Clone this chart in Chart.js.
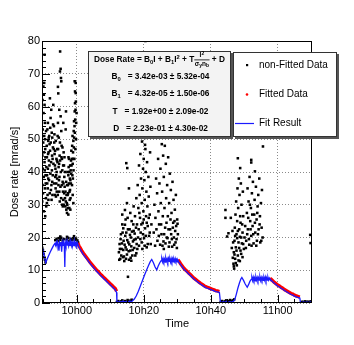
<!DOCTYPE html>
<html>
<head>
<meta charset="utf-8">
<script src="https://cdn.jsdelivr.net/npm/chart.js@4.4.1/dist/chart.umd.min.js"></script>
<style>
  body { margin: 0; background: #fff; }
  canvas { display: block; }
</style>
</head>
<body>
<canvas id="dose" width="354" height="345"></canvas>
<script>
// ==========================================
// 1. DATA  (time = minutes after 10h00, dose rate in mrad/s)
// ==========================================
var xTicks = [0, 20, 40, 60];
var xTickLabels = ['10h00', '10h20', '10h40', '11h00'];
var yTicks = [0, 10, 20, 30, 40, 50, 60, 70, 80];

// fit result (blue line)
var fitCurve = [
  [-10.36,17.2],[-10.0,15.8],[-9.6,13.9],[-9.25,12.3],[-8.9,13.2],[-8.4,14.4],[-7.9,15.6],[-7.4,16.6],[-6.9,17.6],[-6.5,18.2],
  [-6.3,17.6],[-6.1,18.5],[-5.9,17.5],[-5.7,18.6],[-5.5,17.8],[-5.3,16.0],[-5.1,18.4],[-4.9,17.5],[-4.7,18.6],[-4.5,15.7],
  [-4.3,18.5],[-4.1,17.4],[-3.9,18.6],[-3.7,17.6],[-3.55,11.0],[-3.4,18.5],[-3.2,17.5],[-3.0,18.7],[-2.8,17.7],[-2.6,18.4],
  [-2.4,17.4],[-2.2,18.6],[-2.0,17.6],[-1.8,18.5],[-1.6,17.5],[-1.4,18.7],[-1.2,17.6],[-1.0,18.4],[-0.8,17.5],[-0.6,18.6],
  [-0.4,17.6],[-0.2,18.5],[0.0,17.7],[0.2,18.4],[0.4,17.8],
  [0.7,17.0],[1,16.5],[1.5,15.6],[2,14.8],[2.5,14.1],[3,13.4],[3.5,12.7],[4,12.0],[4.5,11.4],[5,10.8],[5.5,10.2],[6,9.6],
  [6.5,9.1],[7,8.5],[7.5,8.0],[8,7.5],[8.5,7.0],[9,6.5],[9.5,6.0],[10,5.5],[10.5,5.0],[11,4.5],[11.5,4.0],[11.9,3.2],[12.0,0.4],
  [12.3,0.2],[12.8,0.5],[13.3,0.3],[13.8,0.6],[14.3,0.3],[14.8,0.5],[15.3,0.3],[15.8,0.6],[16.3,0.4],[16.6,0.6],
  [17.2,1.2],[17.8,2.2],[18.4,3.6],[19.0,5.2],[19.6,6.8],[20.2,8.4],[20.8,9.9],[21.4,11.4],[22.0,12.7],[22.4,13.3],
  [22.9,12.3],[23.4,11.0],[23.9,10.1],[24.3,11.2],[24.8,12.3],[25.2,12.9],
  [25.4,13.5],[25.6,12.6],[25.8,13.6],[26.0,12.7],[26.2,13.4],[26.4,12.5],[26.6,13.7],[26.8,12.8],[27.0,13.5],[27.2,12.6],
  [27.4,13.6],[27.6,12.7],[27.8,13.4],[28.0,12.5],[28.2,13.6],[28.4,12.7],[28.6,13.5],[28.8,12.6],[29.0,13.4],[29.2,12.7],
  [29.4,13.6],[29.6,12.8],[29.8,13.3],[30.0,12.6],[30.2,13.1],
  [30.5,12.4],[31,11.7],[31.5,11.0],[32,10.3],[32.5,9.8],[33,9.3],[33.5,8.8],[34,8.3],[34.5,7.8],[35,7.3],[35.5,6.9],[36,6.5],
  [36.5,6.1],[37,5.7],[37.5,5.4],[38,5.0],[38.5,4.7],[39,4.5],[39.5,4.3],[40,4.1],[40.5,3.9],[41,3.7],[41.5,3.5],[42,3.4],
  [42.6,3.2],[42.9,0.3],
  [43.2,0.1],[43.7,0.4],[44.2,0.2],[44.7,0.5],[45.2,0.2],[45.7,0.4],[46.2,0.3],[46.7,0.5],[47.1,0.8],
  [47.6,2.5],[48.1,4.5],[48.6,6.2],[49.0,7.3],[49.3,7.8],[49.8,6.9],[50.3,5.8],[50.9,4.8],[51.3,5.6],[51.7,6.6],[52.1,7.2],
  [52.3,7.8],[52.5,6.9],[52.7,7.9],[52.9,7.0],[53.1,7.7],[53.3,6.8],[53.5,7.9],[53.7,7.0],[53.9,7.8],[54.1,6.9],[54.3,7.7],
  [54.5,7.0],[54.7,7.9],[54.9,6.9],[55.1,7.8],[55.3,7.0],[55.5,7.7],[55.7,6.9],[55.9,7.8],[56.1,7.0],[56.3,7.9],[56.5,6.9],
  [56.7,7.7],[56.9,7.0],[57.1,7.8],[57.3,7.0],[57.5,7.6],[57.7,7.2],
  [58,7.0],[58.5,6.5],[59,6.0],[59.5,5.6],[60,5.2],[60.5,4.9],[61,4.5],[61.5,4.2],[62,3.8],[62.5,3.5],[63,3.2],[63.5,2.9],
  [64,2.6],[64.5,2.4],[65,2.1],[65.5,1.9],[66,1.7],[66.6,1.5],[66.8,0.2],
  [67.2,0.1],[67.7,0.3],[68.2,0.1],[68.7,0.3],[69.2,0.1],[69.7,0.3],[70.24,0.2]
];

// fitted data (red), one list per decay
var fitted1 = [
  [0.3,18.3],[0.7,17.4],[1,16.9],[1.5,16.0],[2,15.2],[2.5,14.5],[3,13.8],[3.5,13.1],[4,12.4],[4.5,11.8],[5,11.2],[5.5,10.6],
  [6,10.0],[6.5,9.5],[7,8.9],[7.5,8.4],[8,7.9],[8.5,7.4],[9,6.9],[9.5,6.4],[10,5.9],[10.5,5.4],[11,4.9],[11.5,4.4],[11.9,3.6]
];
var fitted2 = [
  [30.2,13.2],[30.6,12.7],[31,12.0],[31.5,11.3],[32,10.6],[32.5,10.1],[33,9.6],[33.5,9.1],[34,8.6],[34.5,8.1],[35,7.6],
  [35.5,7.2],[36,6.8],[36.5,6.4],[37,6.0],[37.5,5.7],[38,5.3],[38.5,5.0],[39,4.8],[39.5,4.6],[40,4.4],[40.5,4.2],[41,4.0],
  [41.5,3.8],[42,3.7],[42.6,3.5]
];
var fitted3 = [
  [57.7,7.5],[58,7.3],[58.5,6.8],[59,6.3],[59.5,5.9],[60,5.5],[60.5,5.2],[61,4.8],[61.5,4.5],[62,4.1],[62.5,3.8],[63,3.5],
  [63.5,3.2],[64,2.9],[64.5,2.7],[65,2.4],[65.5,2.2],[66,2.0],[66.6,1.8]
];

// non-fitted data (black), one list per injection burst + the low-level points
var nonFit1 = [
  [-10.3,31],[-10.2,36],[-10.1,41],[-10.25,45],[-10.0,49],[-10.15,53],[-9.9,58],[-10.2,62],[-9.95,66.1],[-9.6,75.8],
  [-9.7,67.2],[-9.8,63.6],[-9.6,60.5],[-9.5,55],[-9.7,51],[-9.4,47],[-9.6,43],[-9.3,39],[-9.5,35],[-9.2,32],
  [-9.8,28],[-9.1,29.5],[-9.4,26.5],
  [-8.9,30.5],[-8.7,33],[-8.8,36.5],[-8.5,38],[-8.6,41],[-8.3,43.5],[-8.4,46],[-8.1,48.5],[-8.2,51],[-7.9,53.5],
  [-7.8,56.5],[-7.6,59],[-8.0,62.5],[-7.5,31.5],[-7.7,34.5],[-7.3,37],[-7.4,40.5],[-7.2,44],[-7.1,47.5],[-7.3,50.5],
  [-8.6,55],[-8.9,44.5],[-8.5,49.5],
  [-7.0,60.5],[-6.8,54],[-6.7,49],[-6.6,45.5],[-6.5,42],[-6.4,38.5],[-6.3,35],[-6.2,32.5],[-6.1,36.5],[-6.0,40],
  [-5.9,43.5],[-5.8,47],[-5.7,51],[-5.6,55],[-5.5,64],[-5.4,41.5],[-5.3,37.5],[-5.2,34],[-5.1,45],[-5.0,49],
  [-5.6,66],[-5.0,70.7],[-4.95,76.8],[-5.2,59],
  [-4.8,71.5],[-4.7,68.7],[-4.6,67.7],[-4.8,57],[-4.6,52.5],[-4.5,48],[-4.4,44],[-4.3,40.5],[-4.2,37],[-4.1,34],
  [-4.0,31.5],[-3.9,46],[-3.8,42],[-3.7,38.5],[-3.6,35.5],[-3.5,32],[-3.4,29.5],[-3.3,53],[-3.2,58.5],[-3.1,28.5],[-4.0,55],
  [-2.9,27.5],[-2.8,30],[-2.7,33],[-2.6,36],[-2.5,39],[-2.4,41.5],[-2.3,44],[-2.2,29],[-2.1,31.5],[-2.0,34.5],
  [-1.9,37.5],[-1.8,40.5],[-1.7,43.5],[-1.6,46.5],[-2.5,27],[-1.9,28.5],
  [-1.4,36],[-1.3,39],[-1.2,42.5],[-1.1,46],[-1.0,49.5],[-0.9,52.5],[-0.8,55.5],[-0.6,58.5],[-0.5,61],[-0.3,64.1],
  [-0.3,67.2],[-0.5,64.6],[-0.6,67.7],[-1.2,33],[-1.0,30.5],[-0.7,44],[-0.4,47],[-0.2,50],
  [-10.05,33.5],[-9.85,38.5],[-9.75,46],[-9.55,40.5],[-9.45,50],[-9.35,44.5],[-9.25,36.5],[-9.15,52.5],[-9.05,41.5],[-8.95,48],
  [-8.85,39],[-8.75,53],[-8.65,35],[-8.55,45.5],[-8.45,31.5],[-8.35,50.5],[-8.25,37.5],[-8.15,42],[-8.05,33.5],[-7.95,46.5],
  [-7.85,39.5],[-7.75,49],[-7.65,43],[-7.55,36],[-7.45,52],[-7.35,45],[-7.25,33],[-7.15,39],[-7.05,54.5],[-6.95,42.5],
  [-6.85,47],[-6.75,36.5],[-6.65,51.5],[-6.55,33],[-6.45,46.5],[-6.35,41],[-6.25,49.5],[-6.15,39],[-6.05,44],[-5.95,34],
  [-5.85,38],[-5.75,43],[-5.65,33],[-5.55,47],[-5.45,36],[-5.35,50.5],[-5.25,42.5],[-5.15,38.5],[-5.05,31],[-4.95,43.5],
  [-4.85,35.5],[-4.75,40],[-4.65,32],[-4.55,44.5],[-4.45,36],[-4.35,30],[-4.25,47.5],[-4.15,29.5],[-4.05,42],[-3.95,36.5],
  [-3.85,30],[-3.75,33.5],[-3.65,44.5],[-3.45,40],[-3.35,34],[-3.25,31],[-3.15,37],[-3.05,33],
  [-2.95,30.5],[-2.85,36],[-2.75,40],[-2.65,29],[-2.55,33.5],[-2.45,44.5],[-2.35,36.5],[-2.25,40],[-2.15,34],[-2.05,38],
  [-1.95,42],[-1.85,32],[-1.75,36.5],[-1.65,39.5],[-1.55,42],[-1.45,44],[-1.35,48],[-1.25,51],[-1.15,38],[-1.05,44],
  [-0.95,40.5],[-0.85,47.5],[-0.75,50.5],[-0.65,54],[-0.55,52],[-0.45,56],[-0.35,59],[-0.25,61.5],[-0.15,55],[-0.05,58]
];
var nonFit2 = [
  [12.6,15.5],[12.8,18],[13.0,13.5],[13.2,21],[13.4,16.5],[13.6,24],[13.8,14],[14.0,19],[14.2,12.8],[14.4,23.9],
  [14.4,28.4],[14.6,17],[14.8,21.5],[14.8,42.7],[15.1,41.2],[15.0,14.8],[15.2,26],[15.4,18.5],[15.6,35],[15.6,13.2],
  [15.8,22.5],[16.0,16],[16.2,20],[16.4,25],[16.6,14.5],[16.8,18.8],[17.0,29.5],[17.0,22],[17.2,16.8],[17.4,26.5],
  [17.6,19.5],[17.8,32],[17.8,15.2],[16.3,12.9],[15.0,30.5],[13.6,27],
  [18.0,24],[18.2,36],[18.3,20],[18.4,29],[18.6,42],[18.6,17.5],[18.8,33],[18.9,26],[19.0,45.5],[19.1,21.5],
  [19.2,38],[19.4,30.5],[19.4,18.5],[19.5,49.3],[19.6,35],[19.7,24.5],[19.8,41],[19.9,52.4],[19.9,28],[20.0,44],
  [20.1,19.8],[20.2,37.5],[20.3,31.5],[20.4,22.8],[20.5,47],[20.5,80],[20.4,50.4],[20.6,40],[20.7,26.5],[20.8,34],
  [20.9,17],[21.0,43],[21.1,29.5],[21.2,23.5],[21.4,38.5],[21.5,32.5],[21.6,20.5],[21.8,27],[21.9,46],[22.0,35.5],[20.4,48.3],
  [23.0,21.5],[23.2,30],[23.4,17.5],[23.5,26],[23.7,38],[23.8,22.5],[24.0,33.5],[24.1,19],[24.3,44],[24.4,28],
  [24.6,24],[24.7,36.5],[24.9,17.8],[25.0,41],[25.1,30.5],[25.3,21],[25.4,48.5],[25.5,34],[25.7,26.5],[25.8,45],
  [25.9,18.8],[26.0,38.5],[26.2,29],[26.3,48],[26.4,23],[26.6,42.5],[26.7,32],[26.9,20],[27.0,36],[27.2,26.5],
  [27.3,44.5],[27.5,17.2],[27.6,30.5],[27.8,39.5],[27.9,22.5],[28.1,34.5],[28.3,27.5],[28.4,19.5],[28.6,37],[28.8,24.5],
  [28.9,31.5],[29.1,17.8],[29.3,28.5],[29.4,22],[29.6,33],[29.8,19.5],[30.0,25.5],[30.2,21],
  [12.7,13.2],[12.9,16.5],[13.1,19.5],[13.3,14.5],[13.5,18.2],[13.7,21.5],[13.9,16.2],[14.1,14.2],[14.3,17.8],[14.5,20.5],
  [14.7,13.5],[14.9,16.3],[15.1,19.2],[15.3,22.5],[15.5,15.8],[15.7,17.9],[15.9,20.8],[16.1,13.8],[16.3,17.3],[16.5,21.8],
  [16.7,16.2],[16.9,24],[17.1,19.3],[17.3,21.2],[17.5,14.5],[17.7,23],[17.9,18],[13.9,22.8],[14.6,25.5],[16.0,27.5],
  [18.1,16.5],[18.5,22.5],[18.7,27.5],[19.0,19.5],[19.3,24],[19.6,16.5],[19.8,21],[20.0,25.5],[20.3,17.5],[20.6,20.5],
  [20.9,24.5],[21.2,18],[21.5,26],[21.8,21.5],[22.1,18],[22.3,24],
  [24.5,20.5],[25.2,24],[25.6,17.5],[26.1,21],[26.5,18.2],[26.8,24.5],[27.1,19.8],[27.4,22.5],[27.7,18.5],[28.0,25.5],
  [28.2,21],[28.5,17.2],[28.7,23],[29.0,20],[29.2,25],[29.5,18.5],[29.7,23.5],[29.9,16.8],[30.1,24.2],[26.0,16.5]
];
var nonFit3 = [
  [55.6,47.8],[48.1,44.2],[52.1,43.7],[52.1,42.9],[48.8,41.2],[53.2,40.2],[44.4,28.4],[44.4,26],[45.3,21.3],[44.9,20.3],
  [46.8,12],[46.9,15.5],[47.0,10.5],[47.1,19],[47.2,23],[47.3,13.5],[47.4,27],[47.5,17],[47.6,31],[47.7,21],
  [47.8,11.5],[47.9,25],[48.0,35],[48.1,14.5],[48.2,29],[48.3,18.5],[48.4,38],[48.5,22.5],[48.6,33],[48.7,12.8],
  [48.8,26.5],[48.9,16],[49.0,36.5],[49.1,20],[49.2,30],[49.4,24],[49.5,14],[49.6,34],[49.7,18],[46.5,22],
  [46.3,16.8],[46.0,26],
  [50.6,19],[50.8,27.5],[51.0,35],[51.1,22.5],[51.3,31],[51.5,17.8],[51.6,38.5],[51.8,25],[52.0,29],[52.1,20.5],
  [52.3,33.5],[52.5,23.5],[52.6,37],[52.8,18.2],[53.0,27],[53.1,31.5],[53.3,21.5],[53.5,35.5],[53.7,25.5],[53.8,19],
  [54.0,29.5],[54.2,33],[54.3,22.5],[54.5,38],[54.7,26.5],[54.8,18.5],[55.0,30.5],[55.2,23],[55.3,34.5],[55.5,20],
  [46.6,13.8],[46.7,18.5],[46.9,11.2],[47.1,14.8],[47.3,20.5],[47.5,12.2],[47.7,16],[47.9,19.8],[48.1,22],[48.3,13],
  [48.5,16.8],[48.7,20.2],[48.9,24.5],[49.1,15],[49.3,18.2],[49.5,21.5],[49.7,26.5],[49.9,16.5],[50.1,20],[50.3,23.5],
  [50.5,16.8],[50.9,21],[51.2,26],[51.4,19.5],[51.9,22.5],[52.2,17.5],[52.7,21],[53.2,24.5],[53.6,17.5],[54.1,21],
  [54.6,24],[55.1,19],[53.9,27.5],[52.4,27],[51.7,30]
];
var nonFitLow = [
  [-10.3,16.9],[-10.1,16.2],[-9.9,15.0],[-9.7,14.0],[-9.5,13.2],[-9.3,12.4],
  [-6.4,19.2],[-6.0,19.6],[-5.7,18.9],[-5.3,19.8],[-5.0,19.3],[-4.6,19.9],[-4.2,19.1],[-3.8,19.5],[-3.0,19.4],[-2.6,19.9],
  [-2.2,19.0],[-1.8,19.6],[-1.4,19.2],[-1.0,19.8],[-0.6,19.3],[-0.2,19.7],[0.2,19.1],[-4.9,20.3],[-2.9,20.2],[-0.8,20.4],[0.4,18.5],
  [12.0,0.3],[12.4,0.6],[12.8,0.2],[13.2,0.5],[13.6,0.8],[14.0,0.3],[14.4,0.6],[14.8,0.4],[15.2,0.9],[15.6,0.5],
  [16.0,0.7],[16.4,1.0],[15.3,8.0],
  [43.0,0.3],[43.4,0.6],[43.8,0.2],[44.2,0.5],[44.6,0.8],[45.0,0.4],[45.4,0.6],[45.8,0.9],[46.2,0.5],[46.6,0.8],[47.0,1.1],
  [67.0,0.2],[67.4,0.4],[67.8,0.2],[68.2,0.5],[68.6,0.3],[69.0,0.4],[69.4,0.2],[69.8,0.5],[70.1,0.3],
  [69.7,20.8],[69.8,18.3]
];

// fit parameters shown in the box
var fitParams = [
  { name: 'B', sub: '0', value: '3.42e-03', error: '5.32e-04' },
  { name: 'B', sub: '1', value: '4.32e-05', error: '1.50e-06' },
  { name: 'T', sub: '',  value: '1.92e+00', error: '2.09e-02' },
  { name: 'D', sub: '',  value: '2.23e-01', error: '4.30e-02' }
];
var legendLabels = ['non-Fitted Data', 'Fitted Data', 'Fit Result'];

var FONT = "'Liberation Sans', Arial, Helvetica, sans-serif";
var BLUE = '#1a1aff';
var RED = '#ff0000';

function toXY(list) {
  return list.map(function (p) { return { x: p[0], y: p[1] }; });
}

// ==========================================
// 2. DECORATIONS (frame, inner ticks, stats box, legend)
// ==========================================
function drawRich(ctx, parts, x, y) {
  parts.forEach(function (p) {
    ctx.font = 'bold ' + p.s + 'px ' + FONT;
    ctx.fillText(p.t, x, y + (p.dy || 0));
    x += ctx.measureText(p.t).width;
  });
  return x;
}
function richWidth(ctx, parts) {
  var w = 0;
  parts.forEach(function (p) {
    ctx.font = 'bold ' + p.s + 'px ' + FONT;
    w += ctx.measureText(p.t).width;
  });
  return w;
}

var decor = {
  id: 'decor',
  afterDatasetsDraw: function (chart) {
    var ctx = chart.ctx, a = chart.chartArea;
    var xs = chart.scales.x, ys = chart.scales.y;
    ctx.save();

    // ticks pointing into the frame
    ctx.strokeStyle = '#000';
    ctx.lineWidth = 1;
    ctx.beginPath();
    for (var m = -10; m <= 70; m += 5) {
      var px = Math.round(xs.getPixelForValue(m)) + 0.5;
      var len = (m % 20 === 0) ? 8 : 4;
      ctx.moveTo(px, a.bottom);
      ctx.lineTo(px, a.bottom - len);
    }
    for (var v = 0; v <= 80; v += 2) {
      var py = Math.round(ys.getPixelForValue(v)) + 0.5;
      var l2 = (v % 10 === 0) ? 8 : 4;
      ctx.moveTo(a.left, py);
      ctx.lineTo(a.left + l2, py);
    }
    ctx.stroke();
    ctx.strokeRect(Math.round(a.left) + 0.5, Math.round(a.top) + 0.5,
      Math.round(a.right - a.left) - 1, Math.round(a.bottom - a.top) - 1);

    // stats box
    ctx.fillStyle = '#555';
    ctx.fillRect(90, 53, 143, 86);
    ctx.fillStyle = '#f3f3f3';
    ctx.fillRect(88, 51, 143, 86);
    ctx.strokeStyle = '#333';
    ctx.strokeRect(88.5, 51.5, 142, 85);

    ctx.fillStyle = '#000';
    ctx.textBaseline = 'middle';
    ctx.textAlign = 'left';
    var fs = 8.3, ss = 5.8;
    var head = [
      { t: 'Dose Rate = B', s: fs }, { t: '0', s: ss, dy: 2.5 },
      { t: 'I + B', s: fs }, { t: '1', s: ss, dy: 2.5 },
      { t: 'I', s: fs }, { t: '2', s: ss, dy: -3 },
      { t: ' + T', s: fs }
    ];
    var num = [{ t: 'I', s: 6.5 }, { t: '2', s: 5, dy: -2 }];
    var den = [{ t: '\u03c3', s: 6.5 }, { t: 'y', s: 5, dy: 1.5 }, { t: 'n', s: 6.5 }, { t: 'b', s: 5, dy: 1.5 }];
    var tail = [{ t: ' + D', s: fs }];
    var fracW = Math.max(richWidth(ctx, num), richWidth(ctx, den)) + 1;
    var total = richWidth(ctx, head) + fracW + richWidth(ctx, tail);
    var hx = 159.5 - total / 2, hy = 60;
    hx = drawRich(ctx, head, hx, hy);
    drawRich(ctx, num, hx + (fracW - richWidth(ctx, num)) / 2, hy - 4.5);
    ctx.fillRect(hx, hy - 0.5, fracW, 0.8);
    drawRich(ctx, den, hx + (fracW - richWidth(ctx, den)) / 2, hy + 4.5);
    drawRich(ctx, tail, hx + fracW, hy);

    var rowY = [76.5, 94, 111.5, 129];
    fitParams.forEach(function (p, i) {
      var parts = [{ t: p.name, s: fs }];
      if (p.sub) parts.push({ t: p.sub, s: ss, dy: 2.5 });
      parts.push({ t: '   = ' + p.value + ' \u00b1 ' + p.error, s: fs });
      drawRich(ctx, parts, 160.5 - richWidth(ctx, parts) / 2, rowY[i]);
    });

    // legend box
    ctx.fillStyle = '#555';
    ctx.fillRect(235, 54, 104, 85);
    ctx.fillStyle = '#fff';
    ctx.fillRect(233, 52, 104, 85);
    ctx.strokeStyle = '#333';
    ctx.strokeRect(233.5, 52.5, 103, 84);

    ctx.font = '10px ' + FONT;
    ctx.fillStyle = '#000';
    ctx.fillRect(246, 64, 2.2, 2.2);
    ctx.fillText(legendLabels[0], 259, 65.5);
    ctx.fillStyle = RED;
    ctx.beginPath();
    ctx.arc(247, 94.5, 1.3, 0, Math.PI * 2);
    ctx.fill();
    ctx.fillStyle = '#000';
    ctx.fillText(legendLabels[1], 259, 94.5);
    ctx.strokeStyle = BLUE;
    ctx.lineWidth = 1.2;
    ctx.beginPath();
    ctx.moveTo(235, 123.5);
    ctx.lineTo(254, 123.5);
    ctx.stroke();
    ctx.fillText(legendLabels[2], 259, 123.5);

    ctx.restore();
  }
};

// ==========================================
// 3. CHART
// ==========================================
var bandStyle = { showLine: true, borderColor: RED, borderWidth: 3.4, pointRadius: 0, label: 'Fitted Data' };

new Chart(document.getElementById('dose'), {
  type: 'scatter',
  data: {
    datasets: [
      { label: 'Fit Result', data: toXY(fitCurve), showLine: true, borderColor: BLUE, borderWidth: 1.3, pointRadius: 0 },
      Object.assign({ data: toXY(fitted1) }, bandStyle),
      Object.assign({ data: toXY(fitted2) }, bandStyle),
      Object.assign({ data: toXY(fitted3) }, bandStyle),
      { label: 'non-Fitted Data', data: toXY(nonFit1.concat(nonFit2, nonFit3, nonFitLow)),
        pointStyle: 'rect', pointRadius: 1.8, borderWidth: 0, backgroundColor: '#000' }
    ]
  },
  options: {
    responsive: false,
    animation: false,
    layout: { padding: { top: 41, right: 42, left: 0, bottom: 0 } },
    plugins: { legend: { display: false }, tooltip: { enabled: false } },
    scales: {
      x: {
        type: 'linear',
        min: -10.36,
        max: 70.24,
        afterBuildTicks: function (s) { s.ticks = xTicks.map(function (t) { return { value: t }; }); },
        afterFit: function (s) { s.height = 42; },
        ticks: {
          autoSkip: false,
          maxRotation: 0,
          padding: 1.5,
          color: '#000',
          font: { family: FONT, size: 11 },
          callback: function (val) { return xTickLabels[xTicks.indexOf(val)]; }
        },
        grid: { color: '#8a8a8a', lineWidth: 1, drawTicks: false },
        border: { display: false, dash: [1, 2] },
        title: { display: true, text: 'Time', color: '#000', font: { family: FONT, size: 11 }, padding: { top: 0, bottom: 14.4 } }
      },
      y: {
        min: 0,
        max: 80,
        afterBuildTicks: function (s) { s.ticks = yTicks.map(function (t) { return { value: t }; }); },
        afterFit: function (s) { s.width = 42; },
        ticks: { padding: 2, color: '#000', font: { family: FONT, size: 11 } },
        grid: { color: '#8a8a8a', lineWidth: 1, drawTicks: false },
        border: { display: false, dash: [1, 2] },
        title: { display: true, text: 'Dose rate [mrad/s]', color: '#000', font: { family: FONT, size: 11 }, padding: { top: 8.4, bottom: 0 } }
      }
    }
  },
  plugins: [decor]
});
</script>
</body>
</html>
